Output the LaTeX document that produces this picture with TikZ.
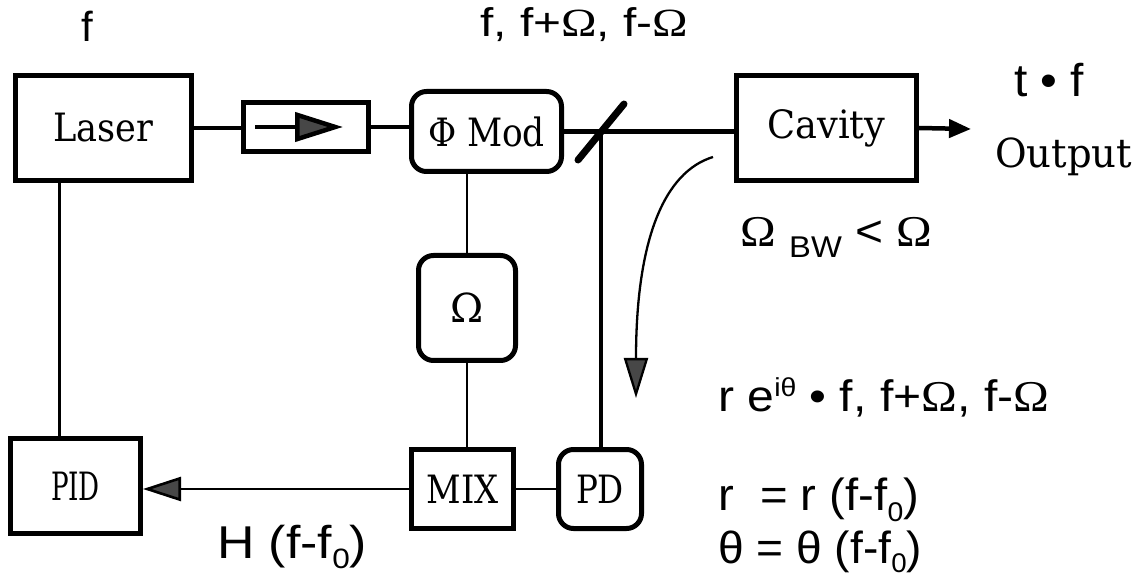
\documentclass[tikz,border=0pt]{standalone}
\usepackage{fontspec}
\usepackage{graphicx}
\setmainfont{DejaVu Serif}
\newfontfamily\sansf{Liberation Sans}
\newfontfamily\omf{Liberation Serif}
\usetikzlibrary{arrows.meta}
\newcommand{\fitw}[2]{\resizebox{#1}{\height}{#2}}
\newcommand{\Om}{{\omf Ω}}
\newcommand{\fs}[1]{\fontsize{#1}{#1}\selectfont}
\begin{document}
\begin{tikzpicture}[x=1pt,y=-1pt,
  box/.style={draw, line width=5pt, inner sep=0pt, font=\fs{39}},
  rbox/.style={box, rounded corners=15pt},
  beam/.style={line width=4.3pt},
  wire/.style={line width=2.6pt},
  lbl/.style={inner sep=0pt, anchor=base west}]
\path[fill=white, use as bounding box] (0,0) rectangle (1144,577);

% blocks
\node[box, minimum width=176pt, minimum height=105pt] (laser) at (103.5,128) {\fitw{100pt}{Laser}};
\node[box, minimum width=125pt, minimum height=49pt] (iso) at (306,127) {};
\node[rbox, minimum width=150pt, minimum height=80pt] (mod) at (486.5,131.5) {\fitw{117pt}{Φ Mod}};
\node[box, minimum width=180pt, minimum height=105pt] (cav) at (826.5,128) {\fitw{118pt}{Cavity}};
\node[rbox, minimum width=97pt, minimum height=105pt] (osc) at (467,308) {\fs{40}Ω};
\node[box, minimum width=102pt, minimum height=79pt] (mix) at (462.5,489) {\fitw{72pt}{MIX}};
\node[rbox, minimum width=83pt, minimum height=79pt] (pd) at (600,489) {\fitw{48pt}{PD}};
\node[box, minimum width=130pt, minimum height=95pt] (pid) at (75.5,486) {\fitw{49pt}{PID}};

\coordinate (outend) at (971,129);
\coordinate (bs) at (601,132);
\coordinate (bsa) at (578,160);
\coordinate (bsb) at (624,104);
\coordinate (cs) at (713,157);
\coordinate (ce) at (636,398);

% optical path
\draw[beam] (laser.east) -- (laser.east -| iso.west);
\draw[beam] (iso.east) -- (iso.east -| mod.west);
\draw[beam] (mod.east) -- (mod.east -| cav.west);
\draw[line width=4.5pt, -{Triangle[length=22pt,width=18pt]}] (cav.east) -- (outend);
\draw[line width=4.5pt, -{Triangle[length=48pt,width=29pt,fill=black!72]}] ([xshift=-51pt]iso.center) -- ([xshift=37pt]iso.center);
\draw[line width=7pt, line cap=round] (bsa) -- (bsb);
\draw[line width=4.5pt] (bs) -- (bs |- pd.north);

% electrical
\draw[wire] (osc.north |- mod.south) -- (osc.north);
\draw[wire] (osc.south) -- (osc.south |- mix.north);
\draw[wire] (mix.east) -- (pd.west);
\draw[wire, -{Triangle[length=38pt,width=24pt,fill=black!72]}] (mix.west) -- (mix.west -| pid.east);
\draw[wire] ([xshift=46.5pt]laser.south west) -- ([xshift=46.5pt]laser.south west |- pid.north);

% reflected beam
\draw[line width=2.3pt, -{Triangle[length=40pt,width=24pt,fill=black!72]}] (cs) .. controls (664,172) and (636,240) .. (ce);

% labels
\node[lbl, font=\sansf\fs{42}] (lf) at (81,42) {f};
\node[lbl, font=\sansf\fs{40}] (lmod) at (480,37) {\fitw{208pt}{f, f+\Om, f-\Om}};
\node[lbl, font=\sansf\fs{46}] (ltf) at (1014,97) {\fitw{70pt}{t • f}};
\node[lbl, font=\fs{40}] (lout) at (995,168) {\fitw{137pt}{Output}};
\node[lbl, font=\sansf\fs{44}] (lbw) at (740,247) {\fitw{192pt}{\Om\ \raisebox{-11pt}{\fs{30}BW} < \Om}};
\node[lbl, font=\sansf\fs{44}] (lrefl) at (718,411) {\fitw{331pt}{r e\raisebox{14pt}{\fs{26}iθ} • f, f+\Om, f-\Om}};
\node[lbl, font=\sansf\fs{45}] (lr) at (718,510) {\fitw{201pt}{r \ = r (f-f\raisebox{-11pt}{\fs{27}0})}};
\node[lbl, font=\sansf\fs{45}] (lth) at (718,563) {\fitw{204pt}{θ = θ (f-f\raisebox{-9pt}{\fs{27}0})}};
\node[lbl, font=\sansf\fs{46}] (lh) at (217,558) {\fitw{150pt}{H (f-f\raisebox{-10pt}{\fs{28}0})}};
\end{tikzpicture}
\end{document}
